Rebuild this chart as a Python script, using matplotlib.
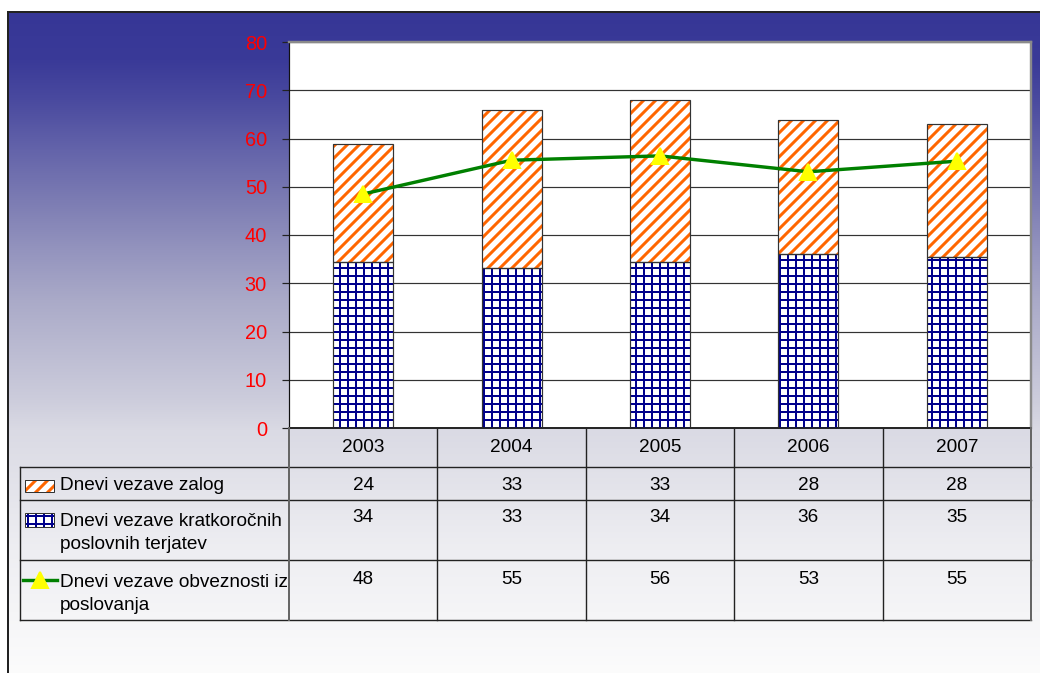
import numpy as np
import matplotlib
matplotlib.use("Agg")
import matplotlib.pyplot as plt
from matplotlib.patches import Rectangle
import matplotlib.transforms as mtransforms

# ---------------- data ----------------
years = ["2003", "2004", "2005", "2006", "2007"]
zalog = [24.5, 32.7, 33.6, 27.7, 27.6]            # orange stacked part
terjatev = [34.4, 33.2, 34.4, 36.1, 35.4]          # blue base part
obveznosti = [48.5, 55.5, 56.4, 53.1, 55.3]        # green line
zalog_tbl = [24, 33, 33, 28, 28]
terjatev_tbl = [34, 33, 34, 36, 35]
obveznosti_tbl = [48, 55, 56, 53, 55]
series_labels = ["Dnevi vezave zalog",
                 "Dnevi vezave kratkoročnih\nposlovnih terjatev",
                 "Dnevi vezave obveznosti iz\nposlovanja"]
yticks = [0, 10, 20, 30, 40, 50, 60, 70, 80]

# ---------------- style ----------------
W, H, DPI = 1040, 673, 144
FONT = ["Liberation Sans", "DejaVu Sans"]
plt.rcParams["font.family"] = FONT
ORANGE = "#FF6600"
NAVY = "#00008C"
GREEN = "#008000"
YELLOW = "#FFFF00"

fig = plt.figure(figsize=(W / DPI, H / DPI), dpi=DPI, facecolor="white")

def fx(x):
    return x / W

def fy(y):
    return 1 - y / H

# background gradient panel
bg = fig.add_axes([fx(8), 0, 1 - fx(8), fy(12)], zorder=0)
stops_y = np.array([12, 60, 100, 150, 200, 250, 300, 400, 430, 550, 673])
stops_c = np.array([
    (54, 54, 150), (58, 58, 152), (74, 74, 159), (100, 100, 170), (124, 124, 179),
    (148, 148, 190), (170, 170, 200), (205, 205, 220), (218, 218, 228),
    (238, 238, 242), (252, 252, 252)]) / 255.0
rows = np.arange(12, 673)
grad = np.stack([np.interp(rows, stops_y, stops_c[:, k]) for k in range(3)], axis=1)
img = np.repeat(grad[:, None, :], 2, axis=1)
bg.imshow(img, aspect="auto", extent=[0, 1, 0, 1], interpolation="bilinear")
bg.set_xticks([])
bg.set_yticks([])
for s in ["right", "bottom"]:
    bg.spines[s].set_visible(False)
for s in ["left", "top"]:
    bg.spines[s].set_linewidth(1.0)
    bg.spines[s].set_color("#222222")

# main plot axes
ax = fig.add_axes([fx(289), fy(428), fx(1031) - fx(289), fy(42) - fy(428)], zorder=2)
ax.set_facecolor("white")
x = np.arange(len(years))
bw = 0.404

def hatch_lw(artists, lw):
    for a in artists:
        try:
            a.set_hatch_linewidth(lw)
        except Exception:
            pass

plt.rcParams["hatch.linewidth"] = 1.0
b1 = ax.bar(x, terjatev, bw, color="white", edgecolor=NAVY, hatch="+++", linewidth=0, zorder=3)
hatch_lw(b1, 1.0)
plt.rcParams["hatch.linewidth"] = 1.5
b2 = ax.bar(x, zalog, bw, bottom=terjatev, color="white", edgecolor=ORANGE, hatch="////",
            linewidth=0, zorder=3)
hatch_lw(b2, 1.5)
ax.bar(x, terjatev, bw, fill=False, edgecolor="#333333", linewidth=0.6, zorder=4)
ax.bar(x, zalog, bw, bottom=terjatev, fill=False, edgecolor="#333333", linewidth=0.6, zorder=4)
ax.plot(x, obveznosti, color=GREEN, lw=1.7, marker="^", markersize=8,
        markerfacecolor=YELLOW, markeredgecolor=YELLOW, zorder=5)

ax.set_xlim(-0.5, len(years) - 0.5)
ax.set_ylim(0, 80)
ax.set_yticks(yticks)
ax.set_yticklabels([str(v) for v in yticks], color="red", fontsize=10, family=FONT)
ax.tick_params(axis="y", length=3.5, width=0.6, pad=7.5, color="#222222")
ax.set_xticks([])
ax.grid(axis="y", color="#333333", lw=0.6, zorder=1)
ax.spines["left"].set_color("#111111")
ax.spines["left"].set_linewidth(0.6)
ax.spines["bottom"].set_color("#111111")
ax.spines["bottom"].set_linewidth(0.8)
for s in ["top", "right"]:
    ax.spines[s].set_color("#8a8a8a")
    ax.spines[s].set_linewidth(1.2)

# overlay for the data table (pixel coordinates)
ov = fig.add_axes([0, 0, 1, 1], zorder=3)
ov.set_xlim(0, W)
ov.set_ylim(H, 0)
ov.axis("off")
ov.patch.set_alpha(0)
tr = mtransforms.blended_transform_factory(ax.transData, ov.transData)

x_left_tbl = 20
row_y = [428, 467, 500, 560, 620]
lc = "#222222"
ov.plot([289, 1031], [428, 428], color=lc, lw=0.8)
for yy in row_y[1:]:
    ov.plot([x_left_tbl, 1031], [yy, yy], color=lc, lw=0.7)
ov.plot([x_left_tbl, x_left_tbl], [467, 620], color=lc, lw=0.7)
for i in range(len(years) + 1):
    xb = i - 0.5
    col = "#666666" if i in (0, len(years)) else lc
    lw = 1.0 if i in (0, len(years)) else 0.7
    ov.plot([xb, xb], [428, 620], color=col, lw=lw, transform=tr)

tfs = 9.5
for i, yr in enumerate(years):
    ov.text(i, 447, yr, ha="center", va="center", fontsize=tfs, transform=tr)
    ov.text(i, 485, str(zalog_tbl[i]), ha="center", va="center", fontsize=tfs, transform=tr)
    ov.text(i, 518, str(terjatev_tbl[i]), ha="center", va="center", fontsize=tfs, transform=tr)
    ov.text(i, 579, str(obveznosti_tbl[i]), ha="center", va="center", fontsize=tfs, transform=tr)

ov.text(60, 486, series_labels[0], ha="left", va="center", fontsize=tfs)
ov.text(60, 533, series_labels[1], ha="left", va="center", fontsize=tfs, linespacing=1.5)
ov.text(60, 594, series_labels[2], ha="left", va="center", fontsize=tfs, linespacing=1.5)

# legend keys
plt.rcParams["hatch.linewidth"] = 1.5
k1 = Rectangle((25, 480), 29, 12, facecolor="white", edgecolor=ORANGE, hatch="////", lw=0)
hatch_lw([k1], 1.5)
ov.add_patch(k1)
ov.add_patch(Rectangle((25, 480), 29, 12, fill=False, edgecolor="#333333", lw=0.5))
plt.rcParams["hatch.linewidth"] = 1.0
k2 = Rectangle((25, 513), 29, 14, facecolor="white", edgecolor=NAVY, hatch="+++", lw=0)
hatch_lw([k2], 1.0)
ov.add_patch(k2)
ov.add_patch(Rectangle((25, 513), 29, 14, fill=False, edgecolor="#333333", lw=0.5))
ov.plot([23, 57], [580, 580], color=GREEN, lw=1.7)
ov.plot([40], [580], marker="^", markersize=8, color=YELLOW, markeredgecolor=YELLOW)

fig.savefig("out.png", dpi=DPI, facecolor="white")
